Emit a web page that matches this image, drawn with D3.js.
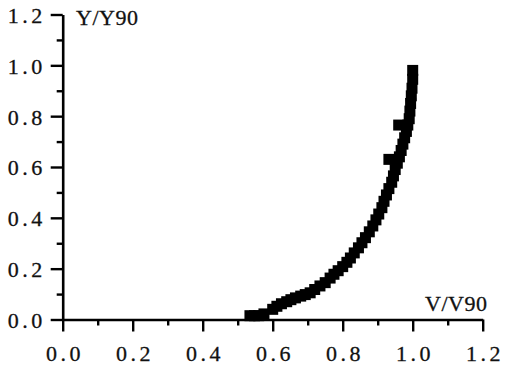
<!DOCTYPE html>
<html><head><meta charset="utf-8">
<script src="https://cdn.jsdelivr.net/npm/d3@7"></script>
<style>
html,body{margin:0;padding:0;background:#fff;}
svg{display:block;}
</style>
</head><body>
<svg id="c" width="505" height="370"></svg>
<script>
// Data (V/V90, Y/Y90)
const vValues = [0.535,0.548,0.560,0.575,0.600,0.612,0.625,0.640,0.652,0.665,0.680,0.693,0.707,0.720,0.735,0.750,0.764,0.775,0.787,0.800,0.812,0.822,0.833,0.845,0.855,0.865,0.876,0.886,0.895,0.903,0.912,0.918,0.925,0.932,0.940,0.945,0.950,0.956,0.962,0.967,0.972,0.977,0.982,0.986,0.990,0.992,0.994,0.996,0.998,1.000,1.000,0.932,0.960];
const yValues = [0.015,0.015,0.015,0.022,0.040,0.052,0.062,0.070,0.078,0.085,0.092,0.098,0.105,0.118,0.132,0.145,0.163,0.178,0.192,0.208,0.225,0.242,0.262,0.282,0.302,0.322,0.345,0.368,0.392,0.415,0.440,0.465,0.490,0.515,0.540,0.565,0.590,0.615,0.640,0.665,0.690,0.715,0.740,0.765,0.790,0.820,0.850,0.880,0.910,0.945,0.980,0.630,0.765];
const majorTicks = [0,0.2,0.4,0.6,0.8,1.0,1.2];
const minorTicks = [0.1,0.3,0.5,0.7,0.9,1.1];
const xTitle = "V/V90";
const yTitle = "Y/Y90";

const svg = d3.select("#c");
const x = d3.scaleLinear().domain([0,1.2]).range([62.7,482.7]);
const y = d3.scaleLinear().domain([0,1.2]).range([319.5,14.5]);
const fmt = d3.format(".1f");
const font = "'Liberation Serif','Times New Roman',serif";

// X axis
const gx = svg.append("g").attr("transform",`translate(0,${y(0)})`);
gx.call(d3.axisBottom(x).tickValues(majorTicks).tickSize(12).tickSizeOuter(0).tickPadding(14).tickFormat(fmt));
const gxm = svg.append("g").attr("transform",`translate(0,${y(0)})`);
gxm.call(d3.axisBottom(x).tickValues(minorTicks).tickSize(6).tickSizeOuter(0).tickFormat(""));
gxm.select(".domain").remove();

// Y axis
const gy = svg.append("g").attr("transform",`translate(${x(0)},0)`);
gy.call(d3.axisLeft(y).tickValues(majorTicks).tickSize(12).tickSizeOuter(0).tickPadding(5).tickFormat(fmt));
const gym = svg.append("g").attr("transform",`translate(${x(0)},0)`);
gym.call(d3.axisLeft(y).tickValues(minorTicks).tickSize(6).tickSizeOuter(0).tickFormat(""));
gym.select(".domain").remove();

svg.selectAll(".domain").attr("stroke","#000").attr("stroke-width",2.6);
svg.selectAll(".tick line").attr("stroke","#000").attr("stroke-width",2.4);
svg.selectAll(".tick text").attr("fill","#111").attr("stroke","#111").attr("stroke-width",0.3)
  .style("font-family",font).style("font-size","22px").style("letter-spacing","3.5px");
gx.selectAll(".tick text").attr("dx","1.75");
gy.selectAll(".tick text").attr("dy","0.36em");

// Titles
svg.append("text").attr("x",76).attr("y",25).text(yTitle)
  .style("font-family",font).style("font-size","22px").style("letter-spacing","0.5px")
  .attr("fill","#111").attr("stroke","#111").attr("stroke-width",0.3);
svg.append("text").attr("x",425).attr("y",311).text(xTitle)
  .style("font-family",font).style("font-size","22px").style("letter-spacing","0.5px")
  .attr("fill","#111").attr("stroke","#111").attr("stroke-width",0.3);

// Markers
const s = 11;
svg.append("g").selectAll("rect").data(vValues.map((v,i)=>[v,yValues[i]])).join("rect")
  .attr("x",d=>x(d[0])-s/2).attr("y",d=>y(d[1])-s/2)
  .attr("width",s).attr("height",s).attr("fill","#000");
</script>
</body></html>
